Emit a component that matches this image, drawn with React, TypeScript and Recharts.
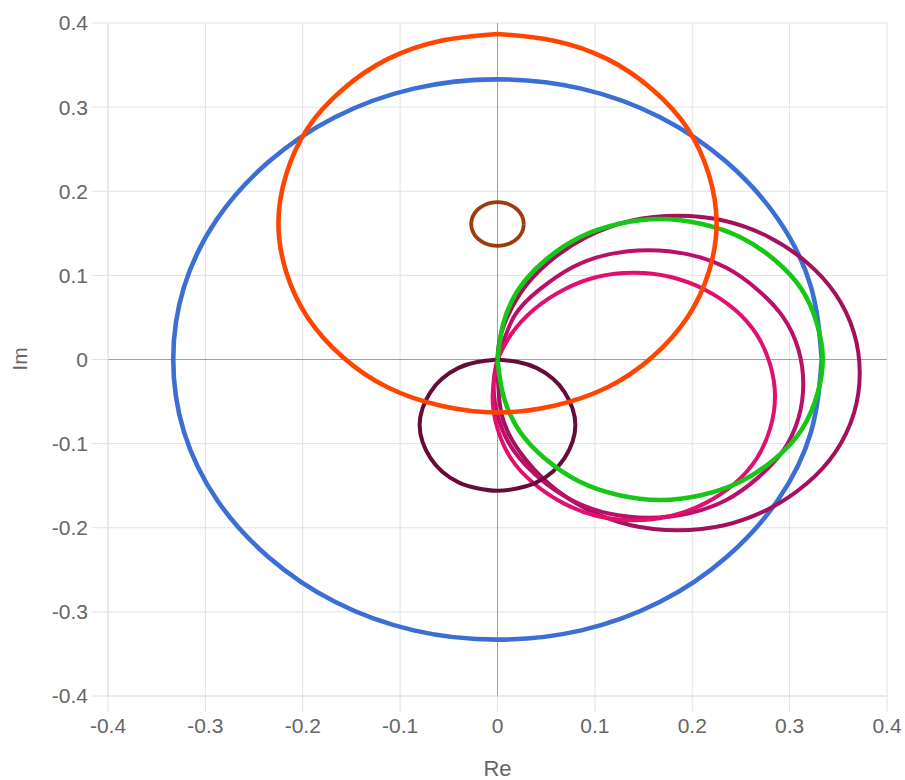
import { ScatterChart, Scatter, XAxis, YAxis, CartesianGrid, ReferenceLine } from "recharts";

type Pt = { x: number; y: number };

// axis ticks
const xTicks = [-0.4, -0.3, -0.2, -0.1, 0, 0.1, 0.2, 0.3, 0.4];
const yTicks = [-0.4, -0.3, -0.2, -0.1, 0, 0.1, 0.2, 0.3, 0.4];

// curves (Re, Im)
const blueCurve: Pt[] = [
  { x: 0.333, y: 0 }, { x: 0.322, y: 0.086 }, { x: 0.288, y: 0.167 }, { x: 0.235, y: 0.235 },
  { x: 0.167, y: 0.288 }, { x: 0.086, y: 0.322 }, { x: 0, y: 0.333 }, { x: -0.086, y: 0.322 },
  { x: -0.167, y: 0.288 }, { x: -0.235, y: 0.235 }, { x: -0.288, y: 0.167 }, { x: -0.322, y: 0.086 },
  { x: -0.333, y: 0 }, { x: -0.322, y: -0.086 }, { x: -0.288, y: -0.167 }, { x: -0.235, y: -0.235 },
  { x: -0.167, y: -0.288 }, { x: -0.086, y: -0.322 }, { x: 0, y: -0.333 }, { x: 0.086, y: -0.322 },
  { x: 0.167, y: -0.288 }, { x: 0.235, y: -0.235 }, { x: 0.288, y: -0.167 }, { x: 0.322, y: -0.086 },
  { x: 0.333, y: 0 },
];

const orangeCurve: Pt[] = [
  { x: 0, y: 0.387 }, { x: 0.058, y: 0.379 }, { x: 0.113, y: 0.357 }, { x: 0.159, y: 0.321 },
  { x: 0.195, y: 0.275 }, { x: 0.217, y: 0.22 }, { x: 0.225, y: 0.162 }, { x: 0.217, y: 0.104 },
  { x: 0.195, y: 0.05 }, { x: 0.159, y: 0.003 }, { x: 0.113, y: -0.033 }, { x: 0.058, y: -0.055 },
  { x: 0, y: -0.063 }, { x: -0.058, y: -0.055 }, { x: -0.113, y: -0.033 }, { x: -0.159, y: 0.003 },
  { x: -0.195, y: 0.05 }, { x: -0.217, y: 0.104 }, { x: -0.225, y: 0.162 }, { x: -0.217, y: 0.22 },
  { x: -0.195, y: 0.275 }, { x: -0.159, y: 0.321 }, { x: -0.113, y: 0.357 }, { x: -0.058, y: 0.379 },
  { x: 0, y: 0.387 },
];

const brownCurve: Pt[] = [
  { x: 0.027, y: 0.161 }, { x: 0.0261, y: 0.1677 }, { x: 0.0234, y: 0.174 }, { x: 0.0191, y: 0.1794 },
  { x: 0.0135, y: 0.1835 }, { x: 0.007, y: 0.1861 }, { x: 0, y: 0.187 }, { x: -0.007, y: 0.1861 },
  { x: -0.0135, y: 0.1835 }, { x: -0.0191, y: 0.1794 }, { x: -0.0234, y: 0.174 }, { x: -0.0261, y: 0.1677 },
  { x: -0.027, y: 0.161 }, { x: -0.0261, y: 0.1543 }, { x: -0.0234, y: 0.148 }, { x: -0.0191, y: 0.1426 },
  { x: -0.0135, y: 0.1385 }, { x: -0.007, y: 0.1359 }, { x: 0, y: 0.135 }, { x: 0.007, y: 0.1359 },
  { x: 0.0135, y: 0.1385 }, { x: 0.0191, y: 0.1426 }, { x: 0.0234, y: 0.148 }, { x: 0.0261, y: 0.1543 },
  { x: 0.027, y: 0.161 },
];

const purpleCurve: Pt[] = [
  { x: 0, y: 0 }, { x: 0.021, y: -0.003 }, { x: 0.04, y: -0.01 }, { x: 0.057, y: -0.023 },
  { x: 0.069, y: -0.039 }, { x: 0.077, y: -0.058 }, { x: 0.08, y: -0.078 }, { x: 0.077, y: -0.098 },
  { x: 0.069, y: -0.117 }, { x: 0.057, y: -0.133 }, { x: 0.04, y: -0.146 }, { x: 0.021, y: -0.153 },
  { x: 0, y: -0.156 }, { x: -0.021, y: -0.153 }, { x: -0.04, y: -0.146 }, { x: -0.057, y: -0.133 },
  { x: -0.069, y: -0.117 }, { x: -0.077, y: -0.098 }, { x: -0.08, y: -0.078 }, { x: -0.077, y: -0.058 },
  { x: -0.069, y: -0.039 }, { x: -0.057, y: -0.023 }, { x: -0.04, y: -0.01 }, { x: -0.021, y: -0.003 },
  { x: 0, y: 0 },
];

const greenCurve: Pt[] = [
  { x: 0, y: 0 }, { x: 0.006, y: 0.043 }, { x: 0.022, y: 0.084 }, { x: 0.049, y: 0.118 },
  { x: 0.084, y: 0.145 }, { x: 0.124, y: 0.161 }, { x: 0.167, y: 0.167 }, { x: 0.21, y: 0.161 },
  { x: 0.25, y: 0.145 }, { x: 0.285, y: 0.118 }, { x: 0.312, y: 0.084 }, { x: 0.328, y: 0.043 },
  { x: 0.334, y: 0 }, { x: 0.328, y: -0.043 }, { x: 0.312, y: -0.084 }, { x: 0.285, y: -0.118 },
  { x: 0.25, y: -0.145 }, { x: 0.21, y: -0.161 }, { x: 0.167, y: -0.167 }, { x: 0.124, y: -0.161 },
  { x: 0.084, y: -0.145 }, { x: 0.049, y: -0.118 }, { x: 0.022, y: -0.084 }, { x: 0.006, y: -0.043 },
  { x: 0, y: 0 },
];

const outerMagenta: Pt[] = [
  { x: 0, y: 0 }, { x: 0.004, y: 0.032 }, { x: 0.023, y: 0.078 }, { x: 0.053, y: 0.116 },
  { x: 0.092, y: 0.146 }, { x: 0.137, y: 0.165 }, { x: 0.185, y: 0.171 }, { x: 0.233, y: 0.165 },
  { x: 0.278, y: 0.146 }, { x: 0.317, y: 0.116 }, { x: 0.347, y: 0.078 }, { x: 0.366, y: 0.032 },
  { x: 0.372, y: -0.016 }, { x: 0.366, y: -0.064 }, { x: 0.347, y: -0.11 }, { x: 0.317, y: -0.148 },
  { x: 0.278, y: -0.178 }, { x: 0.233, y: -0.197 }, { x: 0.185, y: -0.203 }, { x: 0.137, y: -0.197 },
  { x: 0.092, y: -0.178 }, { x: 0.053, y: -0.148 }, { x: 0.023, y: -0.11 }, { x: 0.004, y: -0.064 },
  { x: 0, y: 0 },
];

const middleMagenta: Pt[] = [
  { x: 0, y: 0 }, { x: 0.017, y: 0.051 }, { x: 0.043, y: 0.083 },
  { x: 0.076, y: 0.109 }, { x: 0.114, y: 0.125 }, { x: 0.155, y: 0.13 }, { x: 0.196, y: 0.125 },
  { x: 0.235, y: 0.109 }, { x: 0.267, y: 0.083 }, { x: 0.293, y: 0.051 }, { x: 0.309, y: 0.012 },
  { x: 0.314, y: -0.029 }, { x: 0.309, y: -0.07 }, { x: 0.293, y: -0.109 }, { x: 0.267, y: -0.141 },
  { x: 0.235, y: -0.167 }, { x: 0.196, y: -0.183 }, { x: 0.155, y: -0.188 }, { x: 0.114, y: -0.183 },
  { x: 0.076, y: -0.167 }, { x: 0.043, y: -0.141 }, { x: 0.017, y: -0.109 }, { x: 0.001, y: -0.07 },
  { x: -0.004, y: -0.029 }, { x: 0, y: 0 },
];

const innerPink: Pt[] = [
  { x: 0, y: 0 }, { x: 0.014, y: 0.03 }, { x: 0.038, y: 0.06 }, { x: 0.068, y: 0.083 },
  { x: 0.102, y: 0.098 }, { x: 0.14, y: 0.103 }, { x: 0.178, y: 0.098 }, { x: 0.213, y: 0.083 },
  { x: 0.243, y: 0.06 }, { x: 0.266, y: 0.03 }, { x: 0.28, y: -0.006 }, { x: 0.285, y: -0.044 },
  { x: 0.28, y: -0.082 }, { x: 0.266, y: -0.118 }, { x: 0.243, y: -0.148 }, { x: 0.213, y: -0.171 },
  { x: 0.178, y: -0.186 }, { x: 0.14, y: -0.191 }, { x: 0.102, y: -0.186 }, { x: 0.068, y: -0.171 },
  { x: 0.038, y: -0.148 }, { x: 0.014, y: -0.118 }, { x: 0, y: -0.082 }, { x: -0.005, y: -0.044 },
  { x: 0, y: 0 },
];

const series = [
  { name: "blue", data: blueCurve, color: "#3b6fd5", width: 4.6 },
  { name: "outer", data: outerMagenta, color: "#a3105b", width: 4 },
  { name: "middle", data: middleMagenta, color: "#bb0f69", width: 4 },
  { name: "inner", data: innerPink, color: "#e1106f", width: 4 },
  { name: "purple", data: purpleCurve, color: "#670b3b", width: 4 },
  { name: "green", data: greenCurve, color: "#16c816", width: 4.6 },
  { name: "orange", data: orangeCurve, color: "#ff4500", width: 4.6 },
  { name: "brown", data: brownCurve, color: "#9b3d0e", width: 3.8 },
];

const font = "Liberation Sans, Arial, sans-serif";
const tickStyle = { fontSize: 21, fill: "#666", fontFamily: font };
const gridColor = "#e2e2e2";

const NoDot = () => <g />;

export default function App() {
  return (
    <div style={{ position: "absolute", left: 0, top: 0 }}>
      <ScatterChart width={905} height={780} margin={{ top: 23, right: 18, bottom: 0, left: 0 }}>
        <CartesianGrid stroke={gridColor} />
        <XAxis
          type="number"
          dataKey="x"
          domain={[-0.4, 0.4]}
          ticks={xTicks}
          height={84}
          tick={tickStyle}
          tickSize={16}
          tickMargin={6}
          tickLine={{ stroke: gridColor }}
          axisLine={{ stroke: gridColor }}
          label={() => (
            <text x={497.5} y={776} textAnchor="middle" fontSize={22} fill="#666" fontFamily={font}>
              Re
            </text>
          )}
        />
        <YAxis
          type="number"
          dataKey="y"
          domain={[-0.4, 0.4]}
          ticks={yTicks}
          width={108}
          tick={tickStyle}
          tickSize={16}
          tickMargin={4}
          tickLine={{ stroke: gridColor }}
          axisLine={{ stroke: gridColor }}
          label={() => (
            <text x={27} y={359} transform="rotate(-90 27 359)" textAnchor="middle" fontSize={21} fill="#666" fontFamily={font}>
              Im
            </text>
          )}
        />
        <ReferenceLine x={0} stroke="#a0a0a0" strokeWidth={1} />
        <ReferenceLine y={0} stroke="#a0a0a0" strokeWidth={1} />
        {series.map((s) => (
          <Scatter
            key={s.name}
            name={s.name}
            data={s.data}
            fill={s.color}
            stroke={s.color}
            strokeWidth={s.width}
            line
            lineJointType="natural"
            shape={NoDot}
            isAnimationActive={false}
          />
        ))}
      </ScatterChart>
    </div>
  );
}
